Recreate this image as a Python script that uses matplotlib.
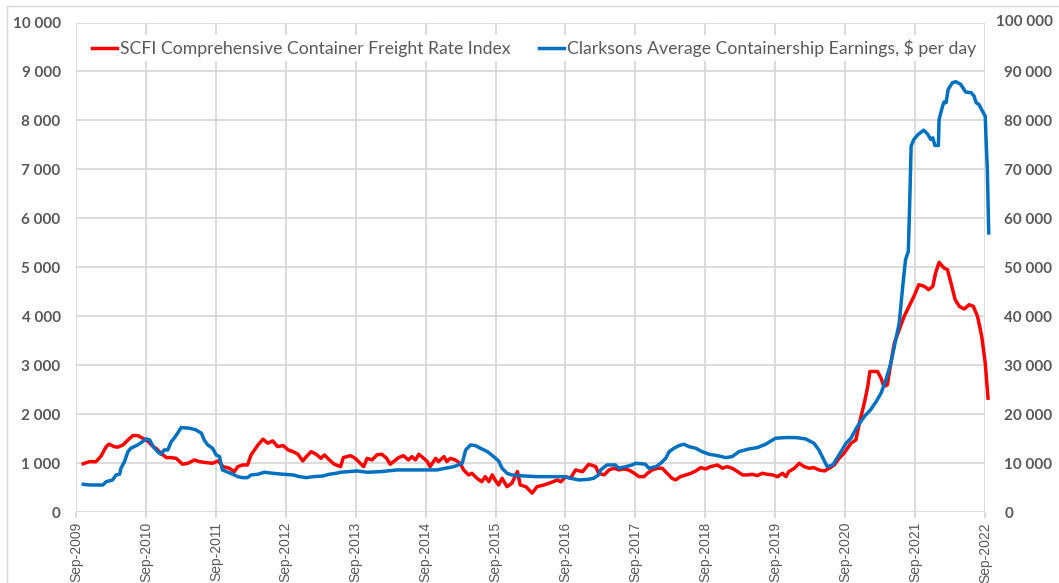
import matplotlib
matplotlib.use("Agg")
import matplotlib.pyplot as plt
from matplotlib.ticker import FuncFormatter, FixedLocator
from matplotlib.patches import Rectangle

# ---- data (decimal year, value) ----
scfi_t = [2009.77, 2009.86, 2009.95, 2010.02, 2010.10, 2010.14, 2010.21, 2010.26, 2010.34, 2010.41,
          2010.48, 2010.55, 2010.62, 2010.69, 2010.77, 2010.81, 2010.88, 2010.96, 2011.03, 2011.10,
          2011.19, 2011.27, 2011.36, 2011.43, 2011.53, 2011.62, 2011.70, 2011.77, 2011.86, 2011.93,
          2011.98, 2012.05, 2012.12, 2012.17, 2012.27, 2012.34, 2012.41, 2012.48, 2012.55, 2012.63,
          2012.70, 2012.77, 2012.84, 2012.91, 2012.96, 2013.03, 2013.10, 2013.17, 2013.22, 2013.29,
          2013.36, 2013.45, 2013.49, 2013.59, 2013.66, 2013.73, 2013.78, 2013.83, 2013.90, 2013.97,
          2014.04, 2014.11, 2014.16, 2014.21, 2014.28, 2014.35, 2014.42, 2014.47, 2014.52, 2014.57,
          2014.64, 2014.69, 2014.73, 2014.81, 2014.85, 2014.93, 2014.97, 2015.02, 2015.09, 2015.16,
          2015.21, 2015.28, 2015.33, 2015.40, 2015.47, 2015.52, 2015.57, 2015.62, 2015.66, 2015.71,
          2015.76, 2015.83, 2015.90, 2015.98, 2016.02, 2016.10, 2016.19, 2016.26, 2016.36, 2016.45,
          2016.55, 2016.60, 2016.67, 2016.74, 2016.81, 2016.91, 2017.00, 2017.03, 2017.10, 2017.14,
          2017.22, 2017.29, 2017.36, 2017.43, 2017.50, 2017.57, 2017.65, 2017.72, 2017.79, 2017.84,
          2017.91, 2017.98, 2018.05, 2018.12, 2018.19, 2018.24, 2018.31, 2018.39, 2018.46, 2018.53,
          2018.60, 2018.67, 2018.74, 2018.84, 2018.91, 2018.98, 2019.05, 2019.13, 2019.20, 2019.27,
          2019.34, 2019.41, 2019.48, 2019.55, 2019.63, 2019.70, 2019.77, 2019.82, 2019.86, 2019.94,
          2020.01, 2020.08, 2020.15, 2020.22, 2020.29, 2020.37, 2020.44, 2020.51, 2020.58, 2020.65,
          2020.75, 2020.82, 2020.87, 2020.94, 2020.99, 2021.02, 2021.13, 2021.18, 2021.22, 2021.27,
          2021.32, 2021.37, 2021.44, 2021.51, 2021.58, 2021.65, 2021.72, 2021.80, 2021.86, 2021.92,
          2021.96, 2022.01, 2022.08, 2022.13, 2022.18, 2022.24, 2022.30, 2022.37, 2022.44, 2022.50,
          2022.56, 2022.62, 2022.67, 2022.71]
scfi_v = [990, 1033, 1030, 1135, 1340, 1390, 1340, 1327, 1374, 1476,
          1565, 1565, 1510, 1456, 1340, 1306, 1204, 1115, 1115, 1100,
          980, 1000, 1067, 1033, 1012, 1000, 1047, 930, 898, 828,
          930, 965, 965, 1170, 1374, 1490, 1409, 1456, 1340, 1360,
          1272, 1237, 1184, 1047, 1135, 1237, 1184, 1100, 1170, 1067,
          980, 930, 1115, 1155, 1100, 1000, 930, 1100, 1067, 1170,
          1184, 1100, 980, 1033, 1115, 1155, 1067, 1135, 1067, 1184,
          1100, 1033, 930, 1100, 1033, 1135, 1033, 1100, 1067, 1000,
          863, 761, 795, 693, 624, 726, 624, 761, 658, 556,
          693, 521, 590, 830, 556, 521, 390, 521, 556, 600,
          658, 620, 726, 693, 863, 828, 980, 965, 930, 795,
          761, 863, 898, 863, 883, 863, 795, 726, 726, 795,
          863, 898, 898, 795, 693, 658, 726, 761, 795, 842,
          910, 883, 930, 965, 898, 930, 898, 828, 761, 761,
          775, 746, 795, 775, 761, 726, 795, 726, 828, 898,
          1000, 930, 898, 910, 863, 842, 898, 965, 1100, 1204,
          1409, 1476, 1818, 2227, 2567, 2873, 2873, 2738, 2567, 2601,
          3045, 3454, 3726, 3998, 4203, 4407, 4646, 4612, 4544, 4612,
          4886, 5103, 4988, 4953, 4681, 4340, 4203, 4149, 4237, 4203,
          3998, 3589, 3045, 2329]

clarksons_t = [2009.77, 2009.86, 2010.05, 2010.10, 2010.19, 2010.24, 2010.29, 2010.31, 2010.36, 2010.41,
               2010.45, 2010.50, 2010.55, 2010.62, 2010.67, 2010.72, 2010.77, 2010.84, 2010.88, 2010.93,
               2010.98, 2011.03, 2011.07, 2011.12, 2011.17, 2011.29, 2011.38, 2011.46, 2011.50, 2011.55,
               2011.62, 2011.67, 2011.72, 2011.76, 2011.84, 2011.91, 2011.98, 2012.05, 2012.12, 2012.17,
               2012.27, 2012.36, 2012.48, 2012.63, 2012.77, 2012.86, 2012.96, 2013.06, 2013.20, 2013.29,
               2013.39, 2013.45, 2013.69, 2013.83, 2014.02, 2014.26, 2014.50, 2014.73, 2014.83, 2014.95,
               2015.07, 2015.19, 2015.24, 2015.31, 2015.38, 2015.45, 2015.55, 2015.64, 2015.71, 2015.76,
               2015.83, 2015.90, 2016.07, 2016.26, 2016.45, 2016.64, 2016.74, 2016.86, 2017.00, 2017.07,
               2017.14, 2017.17, 2017.26, 2017.38, 2017.43, 2017.53, 2017.62, 2017.67, 2017.81, 2017.86,
               2017.96, 2018.03, 2018.10, 2018.15, 2018.22, 2018.29, 2018.36, 2018.43, 2018.53, 2018.62,
               2018.72, 2018.84, 2018.96, 2019.05, 2019.15, 2019.29, 2019.41, 2019.53, 2019.67, 2019.82,
               2019.96, 2020.10, 2020.22, 2020.29, 2020.35, 2020.41, 2020.49, 2020.58, 2020.68, 2020.75,
               2020.84, 2020.94, 2021.03, 2021.11, 2021.18, 2021.25, 2021.32, 2021.39, 2021.44, 2021.49,
               2021.53, 2021.57, 2021.59, 2021.61, 2021.65, 2021.71, 2021.79, 2021.85, 2021.89, 2021.92,
               2021.95, 2022.00, 2022.01, 2022.06, 2022.08, 2022.11, 2022.14, 2022.20, 2022.25, 2022.32,
               2022.39, 2022.47, 2022.51, 2022.54, 2022.58, 2022.63, 2022.67, 2022.68, 2022.70, 2022.72]
clarksons_v = [5700, 5560, 5560, 6240, 6580, 7610, 7750, 8980, 10330, 12370,
               13060, 13400, 13740, 14420, 14970, 14760, 13400, 12250, 11840, 12720,
               12720, 14420, 15110, 16130, 17280, 17150, 16810, 16130, 14760, 13740,
               13060, 11700, 11350, 8630, 8160, 7750, 7260, 7060, 7060, 7610,
               7750, 8160, 7950, 7750, 7610, 7260, 7060, 7260, 7400, 7750,
               7950, 8160, 8420, 8160, 8280, 8630, 8630, 8630, 8630, 8980,
               9300, 10000, 12720, 13740, 13600, 13060, 12370, 11350, 10470, 8980,
               7950, 7610, 7400, 7260, 7260, 7260, 6930, 6580, 6720, 6930,
               7610, 8630, 9650, 9650, 8980, 9300, 9650, 10000, 9800, 8980,
               9300, 10000, 11000, 12370, 13060, 13600, 13880, 13400, 13060, 12370,
               11840, 11550, 11150, 11350, 12370, 12920, 13190, 13880, 15110, 15240,
               15240, 14970, 14090, 12720, 11000, 9300, 9650, 11700, 14090, 15110,
               17490, 19530, 20900, 22600, 24310, 27030, 30450, 35210, 38630, 46120,
               51570, 53270, 63170, 74750, 76120, 77140, 78020, 77140, 76120, 76460,
               74890, 74890, 80210, 82930, 83750, 83620, 86340, 87700, 87910, 87360,
               85800, 85660, 84970, 83620, 83270, 81900, 80880, 76790, 69980, 57030]

xtick_years = list(range(2009, 2023))
xtick_labels = ["Sep-%d" % y for y in xtick_years]
left_ticks = list(range(0, 10001, 1000))
right_ticks = list(range(0, 100001, 10000))

legend_labels = ["SCFI Comprehensive Container Freight Rate Index",
                 "Clarksons Average Containership Earnings, $ per day"]

RED = "#FF0000"
BLUE = "#0070C0"
GRID = "#D9D9D9"
TXT = "#595959"

fig = plt.figure(figsize=(10.59, 5.83), dpi=100)
ax = fig.add_axes([76 / 1059, 1 - 512.2 / 583, (985 - 76) / 1059, (512.2 - 22.5) / 583])
ax2 = ax.twinx()

x0 = 2009 + 8 / 12.0
xt = [y + 8 / 12.0 for y in xtick_years]

ax.set_xlim(x0, 2022 + 8 / 12.0)
ax.set_ylim(0, 10000)
ax2.set_ylim(0, 100000)

ax.xaxis.set_major_locator(FixedLocator(xt))
ax.set_xticklabels(xtick_labels, rotation=90, fontsize=10, color=TXT,
                   family=["Liberation Sans", "DejaVu Sans"])
ax.set_yticks(left_ticks)
ax2.set_yticks(right_ticks)

def spaced(v):
    return "{:,}".format(int(v)).replace(",", " ")

fmt = FuncFormatter(lambda v, p: spaced(v))
ax.yaxis.set_major_formatter(fmt)
# top right label is placed separately (shifted left, as in the reference)
ax2.yaxis.set_major_formatter(FuncFormatter(lambda v, p: "" if v >= right_ticks[-1] else spaced(v)))

for a in (ax, ax2):
    for s in a.spines.values():
        s.set_visible(False)

ax.grid(True, color=GRID, linewidth=1.3)
ax.set_axisbelow(True)
ax.tick_params(axis="x", length=4, color=GRID, width=1.3, pad=3)
ax.tick_params(axis="y", length=0, pad=11)
ax2.tick_params(axis="y", length=0, pad=14)
tick_font = dict(family=["Lato", "DejaVu Sans"], weight="bold", size=11, color=TXT)
for lab in ax.get_yticklabels() + ax2.get_yticklabels():
    lab.set_fontfamily(tick_font["family"])
    lab.set_fontweight("bold")
    lab.set_fontsize(11)
    lab.set_color(TXT)

fig.text(996 / 1059, 1 - 22.5 / 583, spaced(right_ticks[-1]), ha="left", va="center", **tick_font)

l1, = ax.plot(scfi_t, scfi_v, color=RED, linewidth=2.5, clip_on=False, zorder=3)
l2, = ax2.plot(clarksons_t, clarksons_v, color=BLUE, linewidth=2.5, clip_on=False, zorder=3)

leg = fig.legend([l1, l2], legend_labels, loc="center left",
                 bbox_to_anchor=(79 / 1059, 1 - 48 / 583), ncol=2, frameon=True,
                 facecolor="white", edgecolor="none", framealpha=1, fancybox=False,
                 handlelength=1.42, handletextpad=0.18, columnspacing=1.6,
                 borderpad=0.25, prop={"family": ["Lato", "DejaVu Sans"], "size": 12.7})
for t in leg.get_texts():
    t.set_color(TXT)

fig.patches.append(Rectangle((7 / 1059, -0.05), 1.2, 1 - 6 / 583 + 0.05, transform=fig.transFigure,
                             fill=False, edgecolor="#D9D9D9", linewidth=1.0))

fig.savefig("out.png", dpi=100)
